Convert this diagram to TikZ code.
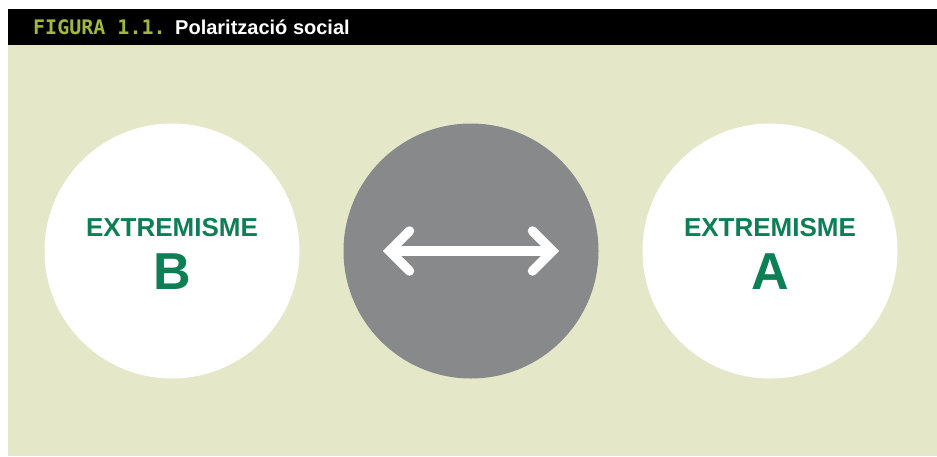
\documentclass[tikz,border=0pt]{standalone}
\usepackage{fontspec}
\setmainfont{Liberation Sans}
\newfontfamily\figmono{DejaVu Sans Mono}
\usetikzlibrary{calc}
\definecolor{fonsverd}{HTML}{E5E8C8}
\definecolor{textverd}{HTML}{0C7F55}
\definecolor{figverd}{HTML}{A0B83C}
\definecolor{cercgris}{HTML}{88898B}
\tikzset{
	bola/.style={circle,draw=none,minimum size=255pt,inner sep=0pt},
	etiq/.style={text=textverd,font=\bfseries\fontsize{26}{26}\selectfont,anchor=base},
	lletra/.style={text=textverd,font=\bfseries\fontsize{52}{52}\selectfont,anchor=base},
	fletxa/.style={white,line width=9.5pt,line cap=round,line join=miter}
}
\begin{document}
\begin{tikzpicture}[x=1pt,y=-1pt]
	\useasboundingbox (0,0) rectangle (937,456);
	\fill[white] (0,0) rectangle (937,456);
	\fill[fonsverd] (8,45) rectangle (937,456);
	\fill[black] (8,9) rectangle (937,45);
	\node[anchor=base west,inner sep=0pt,text=figverd,font=\figmono\bfseries\fontsize{20}{20}\selectfont] (fig) at (33,34) {FIGURA 1.1.};
	\node[anchor=base west,inner sep=0pt,text=white,font=\bfseries\fontsize{20}{20}\selectfont] (tit) at (175,34) {Polarització social};
	% tres cercles
	\node[bola,fill=white] (extB) at (172,251) {};
	\node[bola,fill=cercgris] (mig) at (471,251) {};
	\node[bola,fill=white] (extA) at (770,251) {};
	\node[etiq] (labB) at ($(extB)+(0,-15)$) {EXTREMISME};
	\node[lletra] (lletB) at ($(extB)+(0,38)$) {B};
	\node[etiq] (labA) at ($(extA)+(0,-15)$) {EXTREMISME};
	\node[lletra] (lletA) at ($(extA)+(0,38)$) {A};
	% fletxa doble
	\coordinate (pe) at ($(mig)+(-81.5,0)$);
	\coordinate (pd) at ($(mig)+(81.5,0)$);
	\draw[fletxa,line cap=butt] (pe) -- (pd);
	\draw[fletxa] ($(pe)+(20,-20)$) -- (pe) -- ($(pe)+(20,20)$);
	\draw[fletxa] ($(pd)+(-20,-20)$) -- (pd) -- ($(pd)+(-20,20)$);
\end{tikzpicture}
\end{document}
